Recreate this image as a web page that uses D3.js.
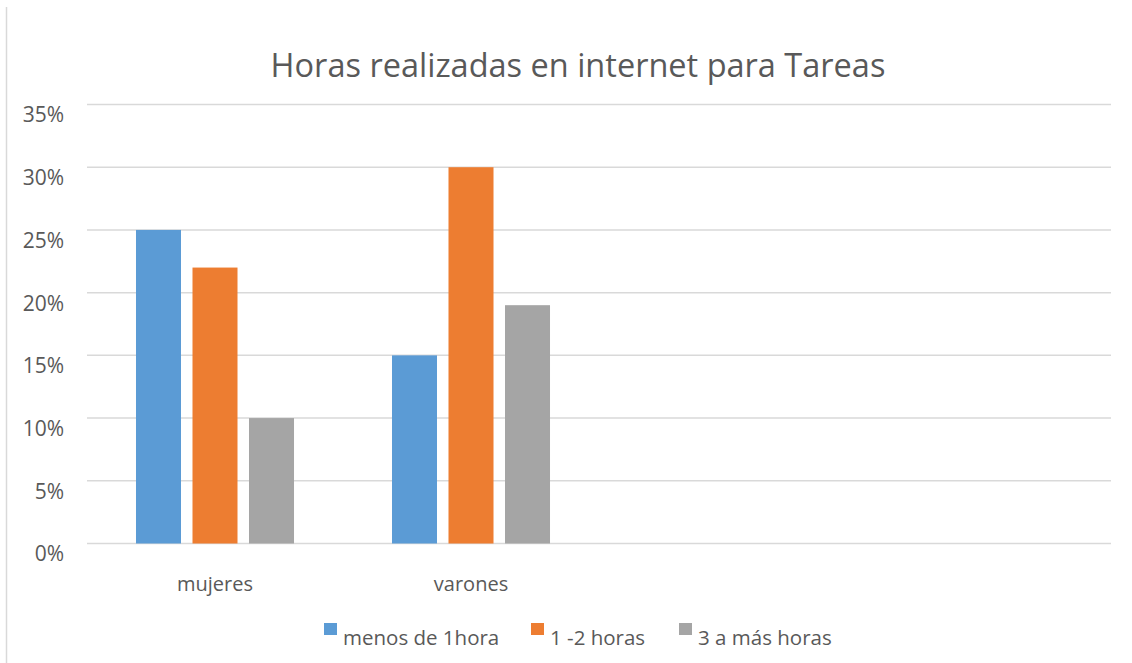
<!DOCTYPE html>
<html>
<head>
<meta charset="utf-8">
<script src="https://cdn.jsdelivr.net/npm/d3@7"></script>
<style>
  body { margin: 0; background: #fff; }
  text { font-family: "Open Sans", sans-serif; fill: #595959; }
</style>
</head>
<body>
<svg id="chart" width="1132" height="663"></svg>
<script>
// datos del grafico
const categorias = ["mujeres", "varones", "", " "];
const series = ["menos de 1hora", "1 -2 horas", "3 a más horas"];
const menosDe1 = [25, 15];
const unoADos = [22, 30];
const tresAMas = [10, 19];
const colores = ["#5b9bd5", "#ed7d31", "#a5a5a5"];
const ticksY = [0, 5, 10, 15, 20, 25, 30, 35];

const valores = [menosDe1, unoADos, tresAMas];
const datos = [];
categorias.forEach((c, i) => {
  series.forEach((s, j) => {
    if (valores[j][i] !== undefined) datos.push({cat: c, serie: s, valor: valores[j][i]});
  });
});

const svg = d3.select("#chart");
const izq = 87, der = 1111, arriba = 104.5, abajo = 543.5;

// borde izquierdo del area del grafico
svg.append("line")
  .attr("x1", 6.5).attr("x2", 6.5).attr("y1", 7).attr("y2", 663)
  .attr("stroke", "#d9d9d9").attr("stroke-width", 1.5);

const x = d3.scaleBand()
  .domain(categorias)
  .range([izq, der]);

const x1 = d3.scaleBand()
  .domain(series)
  .range([0, x.bandwidth()])
  .paddingInner(0.2035)
  .paddingOuter(0.867);

const y = d3.scaleLinear()
  .domain([0, 35])
  .range([abajo, arriba]);

// grilla
svg.append("g")
  .selectAll("line")
  .data(ticksY)
  .join("line")
  .attr("x1", izq).attr("x2", der)
  .attr("y1", d => y(d)).attr("y2", d => y(d))
  .attr("stroke", "#d9d9d9").attr("stroke-width", 1.5);

// eje Y (etiquetas algo por debajo de la linea, como en Excel)
const ejeY = svg.append("g")
  .attr("transform", "translate(" + (izq - 23) + ",0)")
  .call(d3.axisLeft(y).tickValues(ticksY).tickFormat(d => d + "%").tickSize(0).tickPadding(0));
ejeY.select(".domain").remove();
ejeY.selectAll("text")
  .style("font-size", "21px")
  .attr("y", 10)
  .attr("dy", "0.35em");

// barras
svg.append("g")
  .selectAll("rect")
  .data(datos)
  .join("rect")
  .attr("x", d => x(d.cat) + x1(d.serie))
  .attr("y", d => y(d.valor))
  .attr("width", x1.bandwidth())
  .attr("height", d => y(0) - y(d.valor))
  .attr("fill", d => colores[series.indexOf(d.serie)]);

// eje X
const ejeX = svg.append("g")
  .attr("transform", "translate(0," + abajo + ")")
  .call(d3.axisBottom(x).tickSize(0).tickPadding(0));
ejeX.select(".domain").remove();
ejeX.selectAll("text")
  .style("font-size", "20px")
  .attr("y", 47)
  .attr("dy", 0);

// titulo
svg.append("text")
  .attr("x", 578)
  .attr("y", 77)
  .attr("text-anchor", "middle")
  .style("font-size", "32.5px")
  .text("Horas realizadas en internet para Tareas");

// leyenda
const posLeyenda = [324, 531, 679];
const leyenda = svg.append("g")
  .selectAll("g")
  .data(series)
  .join("g")
  .attr("transform", (d, i) => "translate(" + posLeyenda[i] + ",0)");
leyenda.append("rect")
  .attr("y", 623).attr("width", 13).attr("height", 12)
  .attr("fill", (d, i) => colores[i]);
leyenda.append("text")
  .attr("x", 19).attr("y", 645)
  .style("font-size", "20.5px")
  .text(d => d);
</script>
</body>
</html>
